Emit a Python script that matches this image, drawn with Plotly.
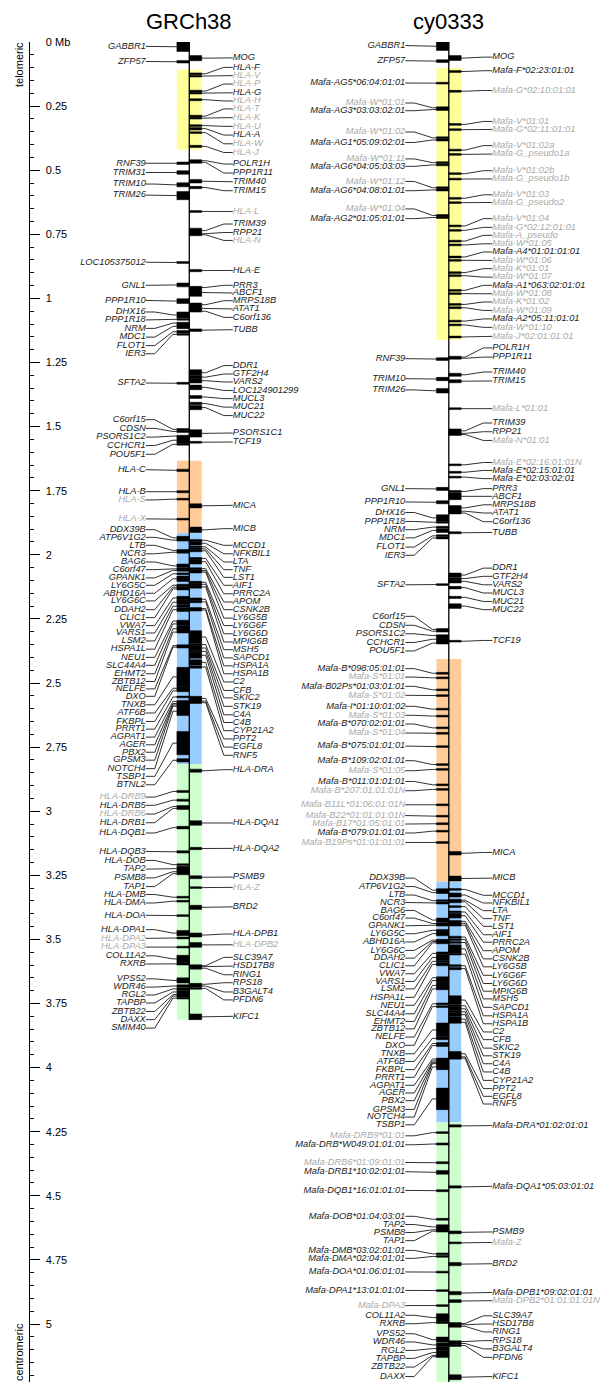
import plotly.graph_objects as go

# ---------------------------------------------------------------- data
ASSEMBLIES = ["GRCh38", "cy0333"]

TICK_MB = [0, 0.25, 0.5, 0.75, 1, 1.25, 1.5, 1.75, 2, 2.25, 2.5, 2.75,
           3, 3.25, 3.5, 3.75, 4, 4.25, 4.5, 4.75, 5]
TICK_TEXT = ["0 Mb", "0.25", "0.5", "0.75", "1", "1.25", "1.5", "1.75", "2",
             "2.25", "2.5", "2.75", "3", "3.25", "3.5", "3.75", "4", "4.25",
             "4.5", "4.75", "5"]

REGION_NAMES = ["class I (A region)", "class I (B/C region)", "class III", "class II"]
GRCH38_REGION_START = [0.108, 1.633, 1.915, 2.816]
GRCH38_REGION_END = [0.419, 1.915, 2.816, 3.813]
CY0333_REGION_START = [0.101, 2.406, 3.275, 4.214]
CY0333_REGION_END = [1.161, 3.275, 4.214, 5.300]

GRCH38_LENGTH = 3.813
CY0333_LENGTH = 5.300

# (gene, start Mb, end Mb, label position Mb, pseudogene)
GRCH38_LEFT = [
    ("GABBR1", 0.000, 0.037, 0.017, False),
    ("ZFP57", 0.072, 0.082, 0.076, False),
    ("RNF39", 0.468, 0.478, 0.473, False),
    ("TRIM31", 0.502, 0.516, 0.509, False),
    ("TRIM10", 0.549, 0.565, 0.554, False),
    ("TRIM26", 0.583, 0.615, 0.597, False),
    ("LOC105375012", 0.858, 0.862, 0.859, False),
    ("GNL1", 0.940, 0.955, 0.949, False),
    ("PPP1R10", 1.001, 1.020, 1.008, False),
    ("DHX16", 1.053, 1.076, 1.053, False),
    ("PPP1R18", 1.078, 1.085, 1.084, False),
    ("NRM", 1.094, 1.099, 1.117, False),
    ("MDC1", 1.100, 1.118, 1.151, False),
    ("FLOT1", 1.125, 1.135, 1.184, False),
    ("IER3", 1.138, 1.142, 1.216, False),
    ("SFTA2", 1.329, 1.333, 1.330, False),
    ("C6orf15", 1.509, 1.513, 1.473, False),
    ("CDSN", 1.515, 1.523, 1.507, False),
    ("PSORS1C2", 1.535, 1.539, 1.541, False),
    ("CCHCR1", 1.541, 1.565, 1.574, False),
    ("POU5F1", 1.566, 1.572, 1.608, False),
    ("HLA-C", 1.666, 1.675, 1.668, False),
    ("HLA-B", 1.750, 1.758, 1.754, False),
    ("HLA-S", 1.780, 1.786, 1.786, True),
    ("HLA-X", 1.858, 1.864, 1.860, True),
    ("DDX39B", 1.928, 1.940, 1.902, False),
    ("ATP6V1G2", 1.941, 1.945, 1.932, False),
    ("LTB", 1.980, 1.986, 1.963, False),
    ("NCR3", 1.987, 1.993, 1.996, False),
    ("BAG6", 2.036, 2.050, 2.028, False),
    ("C6orf47", 2.053, 2.057, 2.058, False),
    ("GPANK1", 2.058, 2.063, 2.090, False),
    ("LY6G5C", 2.071, 2.077, 2.119, False),
    ("ABHD16A", 2.083, 2.104, 2.150, False),
    ("LY6G6C", 2.116, 2.121, 2.180, False),
    ("DDAH2", 2.124, 2.128, 2.214, False),
    ("CLIC1", 2.129, 2.137, 2.245, False),
    ("VWA7", 2.162, 2.175, 2.276, False),
    ("VARS1", 2.176, 2.194, 2.305, False),
    ("LSM2", 2.196, 2.205, 2.336, False),
    ("HSPA1L", 2.207, 2.221, 2.368, False),
    ("NEU1", 2.256, 2.261, 2.400, False),
    ("SLC44A4", 2.262, 2.277, 2.431, False),
    ("EHMT2", 2.278, 2.299, 2.464, False),
    ("ZBTB12", 2.300, 2.303, 2.494, False),
    ("NELFE", 2.352, 2.357, 2.523, False),
    ("DXO", 2.358, 2.362, 2.552, False),
    ("TNXB", 2.439, 2.513, 2.585, False),
    ("ATF6B", 2.514, 2.527, 2.617, False),
    ("FKBPL", 2.528, 2.533, 2.650, False),
    ("PRRT1", 2.552, 2.557, 2.680, False),
    ("AGPAT1", 2.568, 2.576, 2.711, False),
    ("AGER", 2.578, 2.582, 2.741, False),
    ("PBX2", 2.583, 2.588, 2.770, False),
    ("GPSM3", 2.589, 2.592, 2.801, False),
    ("NOTCH4", 2.593, 2.627, 2.834, False),
    ("TSBP1", 2.689, 2.780, 2.864, False),
    ("BTNL2", 2.795, 2.808, 2.897, False),
    ("HLA-DRB9", 2.919, 2.927, 2.945, True),
    ("HLA-DRB5", 2.953, 2.961, 2.977, False),
    ("HLA-DRB6", 2.979, 2.984, 3.011, True),
    ("HLA-DRB1", 2.985, 2.993, 3.045, False),
    ("HLA-DQB1", 3.059, 3.069, 3.085, False),
    ("HLA-DQB3", 3.154, 3.163, 3.157, False),
    ("HLA-DOB", 3.206, 3.211, 3.192, False),
    ("TAP2", 3.215, 3.233, 3.226, False),
    ("PSMB8", 3.234, 3.238, 3.260, False),
    ("TAP1", 3.239, 3.248, 3.294, False),
    ("HLA-DMB", 3.332, 3.339, 3.325, False),
    ("HLA-DMA", 3.348, 3.354, 3.358, False),
    ("HLA-DOA", 3.404, 3.410, 3.406, False),
    ("HLA-DPA1", 3.465, 3.486, 3.462, False),
    ("HLA-DPA2", 3.492, 3.497, 3.496, True),
    ("HLA-DPA3", 3.528, 3.532, 3.530, True),
    ("COL11A2", 3.562, 3.590, 3.564, False),
    ("RXRB", 3.591, 3.600, 3.596, False),
    ("VPS52", 3.650, 3.670, 3.654, False),
    ("WDR46", 3.677, 3.687, 3.686, False),
    ("RGL2", 3.689, 3.697, 3.717, False),
    ("TAPBP", 3.698, 3.712, 3.748, False),
    ("ZBTB22", 3.714, 3.717, 3.781, False),
    ("DAXX", 3.718, 3.724, 3.813, False),
    ("SMIM40", 3.726, 3.732, 3.846, False),
]

GRCH38_RIGHT = [
    ("MOG", 0.053, 0.073, 0.062, False),
    ("HLA-F", 0.121, 0.127, 0.099, False),
    ("HLA-V", 0.130, 0.136, 0.131, True),
    ("HLA-P", 0.189, 0.194, 0.164, True),
    ("HLA-G", 0.196, 0.203, 0.198, False),
    ("HLA-H", 0.221, 0.229, 0.230, True),
    ("HLA-T", 0.286, 0.292, 0.261, True),
    ("HLA-K", 0.294, 0.300, 0.295, True),
    ("HLA-U", 0.324, 0.328, 0.329, True),
    ("HLA-A", 0.333, 0.343, 0.363, False),
    ("HLA-W", 0.350, 0.357, 0.397, True),
    ("HLA-J", 0.403, 0.411, 0.431, True),
    ("POLR1H", 0.459, 0.467, 0.476, False),
    ("PPP1R11", 0.468, 0.471, 0.511, False),
    ("TRIM40", 0.536, 0.550, 0.545, False),
    ("TRIM15", 0.563, 0.572, 0.580, False),
    ("HLA-L", 0.658, 0.664, 0.661, True),
    ("TRIM39", 0.726, 0.745, 0.710, False),
    ("RPP21", 0.745, 0.750, 0.743, False),
    ("HLA-N", 0.750, 0.754, 0.774, True),
    ("HLA-E", 0.887, 0.896, 0.891, False),
    ("PRR3", 0.953, 0.962, 0.949, False),
    ("ABCF1", 0.962, 0.992, 0.979, False),
    ("MRPS18B", 1.018, 1.031, 1.009, False),
    ("ATAT1", 1.031, 1.047, 1.041, False),
    ("C6orf136", 1.047, 1.053, 1.074, False),
    ("TUBB", 1.119, 1.129, 1.122, False),
    ("DDR1", 1.278, 1.302, 1.262, False),
    ("GTF2H4", 1.303, 1.311, 1.295, False),
    ("VARS2", 1.312, 1.330, 1.326, False),
    ("LOC124901299", 1.338, 1.356, 1.359, False),
    ("MUCL3", 1.379, 1.390, 1.391, False),
    ("MUC21", 1.405, 1.415, 1.424, False),
    ("MUC22", 1.418, 1.434, 1.457, False),
    ("PSORS1C1", 1.512, 1.541, 1.525, False),
    ("TCF19", 1.558, 1.564, 1.560, False),
    ("MICA", 1.801, 1.817, 1.807, False),
    ("MICB", 1.892, 1.913, 1.898, False),
    ("MCCD1", 1.941, 1.946, 1.963, False),
    ("NFKBIL1", 1.948, 1.962, 1.996, False),
    ("LTA", 1.966, 1.972, 2.028, False),
    ("TNF", 1.974, 1.980, 2.058, False),
    ("LST1", 1.982, 1.987, 2.088, False),
    ("AIF1", 2.012, 2.016, 2.119, False),
    ("PRRC2A", 2.018, 2.036, 2.152, False),
    ("APOM", 2.052, 2.056, 2.184, False),
    ("CSNK2B", 2.058, 2.065, 2.214, False),
    ("LY6G5B", 2.066, 2.069, 2.247, False),
    ("LY6G6F", 2.104, 2.110, 2.276, False),
    ("LY6G6D", 2.112, 2.118, 2.308, False),
    ("MPIG6B", 2.120, 2.130, 2.340, False),
    ("MSH5", 2.168, 2.179, 2.370, False),
    ("SAPCD1", 2.182, 2.185, 2.402, False),
    ("HSPA1A", 2.207, 2.212, 2.433, False),
    ("HSPA1B", 2.213, 2.218, 2.464, False),
    ("C2", 2.296, 2.345, 2.496, False),
    ("CFB", 2.347, 2.353, 2.529, False),
    ("SKIC2", 2.355, 2.372, 2.558, False),
    ("STK19", 2.373, 2.380, 2.591, False),
    ("C4A", 2.381, 2.403, 2.624, False),
    ("C4B", 2.409, 2.430, 2.654, False),
    ("CYP21A2", 2.433, 2.442, 2.686, False),
    ("PPT2", 2.552, 2.568, 2.718, False),
    ("EGFL8", 2.569, 2.572, 2.750, False),
    ("RNF5", 2.575, 2.578, 2.782, False),
    ("HLA-DRA", 2.836, 2.848, 2.838, False),
    ("HLA-DQA1", 3.037, 3.055, 3.046, False),
    ("HLA-DQA2", 3.141, 3.150, 3.145, False),
    ("PSMB9", 3.252, 3.263, 3.257, False),
    ("HLA-Z", 3.295, 3.301, 3.297, True),
    ("BRD2", 3.367, 3.383, 3.373, False),
    ("HLA-DPB1", 3.475, 3.491, 3.479, False),
    ("HLA-DPB2", 3.512, 3.531, 3.521, True),
    ("SLC39A7", 3.601, 3.604, 3.570, False),
    ("HSD17B8", 3.605, 3.608, 3.604, False),
    ("RING1", 3.609, 3.616, 3.638, False),
    ("RPS18", 3.673, 3.677, 3.669, False),
    ("B3GALT4", 3.680, 3.684, 3.705, False),
    ("PFDN6", 3.689, 3.693, 3.736, False),
    ("KIFC1", 3.791, 3.813, 3.800, False),
]

CY0333_LEFT = [
    ("GABBR1", 0.000, 0.033, 0.014, False),
    ("ZFP57", 0.069, 0.080, 0.073, False),
    ("Mafa-AG5*06:04:01:01", 0.158, 0.163, 0.160, False),
    ("Mafa-W*01:01", 0.254, 0.259, 0.238, True),
    ("Mafa-AG3*03:03:02:01", 0.260, 0.267, 0.268, False),
    ("Mafa-W*01:02", 0.371, 0.376, 0.351, True),
    ("Mafa-AG1*05:09:02:01", 0.378, 0.386, 0.392, False),
    ("Mafa-W*01:11", 0.468, 0.473, 0.456, True),
    ("Mafa-AG6*04:05:03:03", 0.477, 0.482, 0.485, False),
    ("Mafa-W*01:12", 0.566, 0.571, 0.544, True),
    ("Mafa-AG6*04:08:01:01", 0.573, 0.581, 0.580, False),
    ("Mafa-W*01:04", 0.674, 0.679, 0.651, True),
    ("Mafa-AG2*01:05:01:01", 0.681, 0.688, 0.689, False),
    ("RNF39", 1.231, 1.242, 1.235, False),
    ("TRIM10", 1.308, 1.321, 1.313, False),
    ("TRIM26", 1.351, 1.369, 1.357, False),
    ("GNL1", 1.737, 1.749, 1.742, False),
    ("PPP1R10", 1.789, 1.801, 1.794, False),
    ("DHX16", 1.844, 1.868, 1.835, False),
    ("PPP1R18", 1.870, 1.876, 1.870, False),
    ("NRM", 1.889, 1.895, 1.902, False),
    ("MDC1", 1.897, 1.913, 1.934, False),
    ("FLOT1", 1.922, 1.930, 1.970, False),
    ("IER3", 1.932, 1.937, 2.002, False),
    ("SFTA2", 2.113, 2.119, 2.117, False),
    ("C6orf15", 2.288, 2.294, 2.240, False),
    ("CDSN", 2.295, 2.301, 2.275, False),
    ("PSORS1C2", 2.313, 2.317, 2.308, False),
    ("CCHCR1", 2.318, 2.341, 2.342, False),
    ("POU5F1", 2.342, 2.347, 2.375, False),
    ("Mafa-B*098:05:01:01", 2.459, 2.465, 2.444, False),
    ("Mafa-S*01:01", 2.477, 2.483, 2.477, True),
    ("Mafa-B02Ps*01:03:01:01", 2.523, 2.530, 2.513, False),
    ("Mafa-S*01:02", 2.546, 2.552, 2.548, True),
    ("Mafa-I*01:10:01:02", 2.599, 2.605, 2.591, False),
    ("Mafa-S*01:03", 2.626, 2.632, 2.626, True),
    ("Mafa-B*070:02:01:01", 2.672, 2.678, 2.660, False),
    ("Mafa-S*01:04", 2.693, 2.699, 2.695, True),
    ("Mafa-B*075:01:01:01", 2.745, 2.751, 2.746, False),
    ("Mafa-B*109:02:01:01", 2.815, 2.821, 2.803, False),
    ("Mafa-S*01:05", 2.834, 2.840, 2.842, True),
    ("Mafa-B*011:01:01:01", 2.894, 2.900, 2.884, False),
    ("Mafa-B*207:01:01:01N", 2.912, 2.918, 2.920, True),
    ("Mafa-B11L*01:06:01:01N", 2.972, 2.978, 2.975, True),
    ("Mafa-B22*01:01:01:01N", 3.016, 3.023, 3.017, True),
    ("Mafa-B17*01:05:01:01", 3.046, 3.052, 3.050, True),
    ("Mafa-B*079:01:01:01", 3.075, 3.081, 3.085, False),
    ("Mafa-B19Ps*01:01:01:01", 3.119, 3.125, 3.122, True),
    ("DDX39B", 3.302, 3.314, 3.261, False),
    ("ATP6V1G2", 3.315, 3.320, 3.294, False),
    ("LTB", 3.346, 3.352, 3.327, False),
    ("NCR3", 3.354, 3.362, 3.356, False),
    ("BAG6", 3.417, 3.432, 3.387, False),
    ("C6orf47", 3.436, 3.440, 3.417, False),
    ("GPANK1", 3.442, 3.447, 3.447, False),
    ("LY6G5C", 3.462, 3.467, 3.478, False),
    ("ABHD16A", 3.469, 3.486, 3.510, False),
    ("LY6G6C", 3.501, 3.505, 3.543, False),
    ("DDAH2", 3.506, 3.510, 3.573, False),
    ("CLIC1", 3.510, 3.517, 3.603, False),
    ("VWA7", 3.549, 3.560, 3.634, False),
    ("VARS1", 3.561, 3.580, 3.664, False),
    ("LSM2", 3.581, 3.590, 3.693, False),
    ("HSPA1L", 3.592, 3.603, 3.726, False),
    ("NEU1", 3.647, 3.652, 3.757, False),
    ("SLC44A4", 3.653, 3.668, 3.790, False),
    ("EHMT2", 3.669, 3.690, 3.820, False),
    ("ZBTB12", 3.691, 3.695, 3.849, False),
    ("NELFE", 3.748, 3.755, 3.881, False),
    ("DXO", 3.759, 3.765, 3.913, False),
    ("TNXB", 3.826, 3.880, 3.946, False),
    ("ATF6B", 3.881, 3.891, 3.976, False),
    ("FKBPL", 3.904, 3.908, 4.008, False),
    ("PRRT1", 3.911, 3.917, 4.038, False),
    ("AGPAT1", 3.963, 3.970, 4.069, False),
    ("AGER", 3.972, 3.976, 4.099, False),
    ("PBX2", 3.977, 3.982, 4.129, False),
    ("GPSM3", 3.983, 3.986, 4.163, False),
    ("NOTCH4", 3.987, 4.008, 4.193, False),
    ("TSBP1", 4.080, 4.164, 4.223, False),
    ("Mafa-DRB9*01:01", 4.250, 4.257, 4.266, True),
    ("Mafa-DRB*W049:01:01:01", 4.294, 4.302, 4.301, False),
    ("Mafa-DRB6*01:09:01:01", 4.367, 4.375, 4.370, True),
    ("Mafa-DRB1*10:02:01:01", 4.401, 4.416, 4.406, False),
    ("Mafa-DQB1*16:01:01:01", 4.476, 4.484, 4.479, False),
    ("Mafa-DOB*01:04:03:01", 4.588, 4.595, 4.580, False),
    ("TAP2", 4.613, 4.630, 4.612, False),
    ("PSMB8", 4.631, 4.634, 4.643, False),
    ("TAP1", 4.635, 4.641, 4.675, False),
    ("Mafa-DMB*03:02:01:01", 4.723, 4.730, 4.713, False),
    ("Mafa-DMA*02:04:01:01", 4.733, 4.740, 4.744, False),
    ("Mafa-DOA*01:06:01:01", 4.795, 4.800, 4.797, False),
    ("Mafa-DPA1*13:01:01:01", 4.866, 4.873, 4.869, False),
    ("Mafa-DPA3", 4.925, 4.931, 4.928, True),
    ("COL11A2", 4.960, 4.990, 4.966, False),
    ("RXRB", 4.991, 4.998, 4.999, False),
    ("VPS52", 5.051, 5.071, 5.038, False),
    ("WDR46", 5.074, 5.089, 5.070, False),
    ("RGL2", 5.090, 5.102, 5.103, False),
    ("TAPBP", 5.103, 5.120, 5.134, False),
    ("ZBTB22", 5.121, 5.124, 5.168, False),
    ("DAXX", 5.125, 5.130, 5.205, False),
]

CY0333_RIGHT = [
    ("MOG", 0.053, 0.072, 0.059, False),
    ("Mafa-F*02:23:01:01", 0.112, 0.118, 0.112, False),
    ("Mafa-G*02:10:01:01", 0.189, 0.195, 0.189, True),
    ("Mafa-V*01:01", 0.319, 0.324, 0.310, True),
    ("Mafa-G*02:11:01:01", 0.339, 0.345, 0.341, True),
    ("Mafa-V*01:02a", 0.419, 0.424, 0.404, True),
    ("Mafa-G_pseudo1a", 0.436, 0.441, 0.437, True),
    ("Mafa-V*01:02b", 0.511, 0.516, 0.502, True),
    ("Mafa-G_pseudo1b", 0.532, 0.537, 0.534, True),
    ("Mafa-V*01:03", 0.607, 0.612, 0.596, True),
    ("Mafa-G_pseudo2", 0.624, 0.629, 0.626, True),
    ("Mafa-V*01:04", 0.715, 0.720, 0.689, True),
    ("Mafa-G*02:12:01:01", 0.732, 0.737, 0.723, True),
    ("Mafa-A_pseudo", 0.774, 0.779, 0.754, True),
    ("Mafa-W*01:05", 0.789, 0.794, 0.787, True),
    ("Mafa-A4*01:01:01:01", 0.836, 0.841, 0.819, False),
    ("Mafa-W*01:06", 0.849, 0.854, 0.852, True),
    ("Mafa-K*01:01", 0.897, 0.902, 0.884, True),
    ("Mafa-W*01:07", 0.909, 0.914, 0.917, True),
    ("Mafa-A1*063:02:01:01", 0.966, 0.971, 0.949, False),
    ("Mafa-W*01:08", 0.979, 0.984, 0.982, True),
    ("Mafa-K*01:02", 1.021, 1.026, 1.014, True),
    ("Mafa-W*01:09", 1.034, 1.039, 1.047, True),
    ("Mafa-A2*05:11:01:01", 1.086, 1.091, 1.080, False),
    ("Mafa-W*01:10", 1.101, 1.106, 1.113, True),
    ("Mafa-J*02:01:01:01", 1.148, 1.153, 1.148, True),
    ("POLR1H", 1.226, 1.232, 1.193, False),
    ("PPP1R11", 1.232, 1.235, 1.229, False),
    ("TRIM40", 1.292, 1.304, 1.287, False),
    ("TRIM15", 1.317, 1.329, 1.322, False),
    ("Mafa-L*01:01", 1.427, 1.433, 1.430, True),
    ("TRIM39", 1.509, 1.524, 1.486, False),
    ("RPP21", 1.524, 1.529, 1.520, False),
    ("Mafa-N*01:01", 1.529, 1.533, 1.554, True),
    ("Mafa-E*02:16:01:01N", 1.646, 1.652, 1.640, True),
    ("Mafa-E*02:15:01:01", 1.675, 1.681, 1.671, False),
    ("Mafa-E*02:03:02:01", 1.694, 1.700, 1.703, False),
    ("PRR3", 1.749, 1.757, 1.742, False),
    ("ABCF1", 1.759, 1.785, 1.772, False),
    ("MRPS18B", 1.808, 1.826, 1.805, False),
    ("ATAT1", 1.827, 1.833, 1.837, False),
    ("C6orf136", 1.834, 1.840, 1.871, False),
    ("TUBB", 1.910, 1.918, 1.913, False),
    ("DDR1", 2.071, 2.087, 2.052, False),
    ("GTF2H4", 2.089, 2.096, 2.084, False),
    ("VARS2", 2.097, 2.110, 2.117, False),
    ("MUCL3", 2.123, 2.133, 2.149, False),
    ("MUC21", 2.162, 2.170, 2.182, False),
    ("MUC22", 2.191, 2.209, 2.214, False),
    ("TCF19", 2.334, 2.340, 2.334, False),
    ("MICA", 3.157, 3.171, 3.161, False),
    ("MICB", 3.253, 3.272, 3.261, False),
    ("MCCD1", 3.302, 3.308, 3.328, False),
    ("NFKBIL1", 3.319, 3.335, 3.358, False),
    ("LTA", 3.345, 3.349, 3.388, False),
    ("TNF", 3.351, 3.356, 3.419, False),
    ("LST1", 3.370, 3.374, 3.449, False),
    ("AIF1", 3.391, 3.395, 3.482, False),
    ("PRRC2A", 3.398, 3.417, 3.511, False),
    ("APOM", 3.427, 3.432, 3.544, False),
    ("CSNK2B", 3.434, 3.440, 3.576, False),
    ("LY6G5B", 3.443, 3.446, 3.607, False),
    ("LY6G6F", 3.488, 3.494, 3.640, False),
    ("LY6G6D", 3.497, 3.504, 3.672, False),
    ("MPIG6B", 3.509, 3.515, 3.702, False),
    ("MSH5", 3.521, 3.553, 3.732, False),
    ("SAPCD1", 3.556, 3.559, 3.765, False),
    ("HSPA1A", 3.599, 3.606, 3.798, False),
    ("HSPA1B", 3.610, 3.618, 3.829, False),
    ("C2", 3.720, 3.753, 3.861, False),
    ("CFB", 3.755, 3.762, 3.891, False),
    ("SKIC2", 3.763, 3.778, 3.924, False),
    ("STK19", 3.779, 3.786, 3.954, False),
    ("C4A", 3.787, 3.800, 3.985, False),
    ("C4B", 3.802, 3.820, 4.017, False),
    ("CYP21A2", 3.821, 3.826, 4.050, False),
    ("PPT2", 3.937, 3.955, 4.082, False),
    ("EGFL8", 3.956, 3.960, 4.112, False),
    ("RNF5", 3.962, 3.965, 4.142, False),
    ("Mafa-DRA*01:02:01:01", 4.223, 4.232, 4.226, False),
    ("Mafa-DQA1*05:03:01:01", 4.461, 4.470, 4.463, False),
    ("PSMB9", 4.637, 4.648, 4.641, False),
    ("Mafa-Z", 4.680, 4.687, 4.682, True),
    ("BRD2", 4.760, 4.773, 4.765, False),
    ("Mafa-DPB1*09:02:01:01", 4.873, 4.886, 4.877, False),
    ("Mafa-DPB2*01:01:01:01N", 4.905, 4.916, 4.909, True),
    ("SLC39A7", 4.996, 5.000, 4.968, False),
    ("HSD17B8", 5.001, 5.005, 5.000, False),
    ("RING1", 5.006, 5.012, 5.031, False),
    ("RPS18", 5.066, 5.071, 5.065, False),
    ("B3GALT4", 5.074, 5.078, 5.097, False),
    ("PFDN6", 5.082, 5.086, 5.130, False),
    ("KIFC1", 5.198, 5.217, 5.205, False),
]

# ---------------------------------------------------------------- style
W, H = 602, 1382
TOP, LEFT = 42, 30
PX_PER_MB = 256.4
MB_BOTTOM = (H - TOP) / PX_PER_MB
FONT = "Liberation Sans, Arial, Helvetica, sans-serif"
REGION_COLORS = ["#FFFF99", "#FFCC99", "#99CCFF", "#CCFFCC"]
COL_X = {"GRCh38": 189.3, "cy0333": 448.8}
BOX_W = 12.4
LABEL_GAP = 43.5
STUB_LABEL = 9
STUB_GENE = 4
MIN_LEN = 0.007
TXT_BLACK = "#222222"
TXT_GRAY = "#aaaaaa"
LABEL_SIZE = 9.3

fig = go.Figure()

columns = [
    ("GRCh38", GRCH38_LEFT, GRCH38_RIGHT, GRCH38_REGION_START, GRCH38_REGION_END, GRCH38_LENGTH),
    ("cy0333", CY0333_LEFT, CY0333_RIGHT, CY0333_REGION_START, CY0333_REGION_END, CY0333_LENGTH),
]

annotations = []
for asm, left, right, rstart, rend, length in columns:
    cx = COL_X[asm]
    for s, e, col in zip(rstart, rend, REGION_COLORS):
        fig.add_shape(type="rect", xref="x", yref="y", x0=cx - BOX_W, x1=cx + BOX_W,
                      y0=s, y1=e, fillcolor=col, line_width=0, layer="below")
    for side, rows in (("L", left), ("R", right)):
        sign = -1 if side == "L" else 1
        x_out = cx + sign * BOX_W
        x_lab = cx + sign * LABEL_GAP
        bx, by, lx, ly = [], [], [], []
        for name, s, e, lab, pseudo in rows:
            mid = (s + e) / 2
            if e - s < MIN_LEN:
                s, e = mid - MIN_LEN / 2, mid + MIN_LEN / 2
            bx += [cx, x_out, x_out, cx, cx, None]
            by += [s, s, e, e, s, None]
            lx += [x_lab, x_lab - sign * STUB_LABEL, x_out + sign * STUB_GENE, x_out, None]
            ly += [lab, lab, mid, mid, None]
        fig.add_trace(go.Scatter(x=lx, y=ly, mode="lines", line=dict(color="#1a1a1a", width=0.9),
                                 hoverinfo="skip", showlegend=False))
        fig.add_trace(go.Scatter(x=bx, y=by, mode="lines", fill="toself", fillcolor="black",
                                 line=dict(color="black", width=0.5), hoverinfo="skip",
                                 showlegend=False))
        for flag, color in ((False, TXT_BLACK), (True, TXT_GRAY)):
            sel = [r for r in rows if r[4] == flag]
            fig.add_trace(go.Scatter(
                x=[x_lab] * len(sel), y=[r[3] for r in sel], text=[r[0] for r in sel],
                mode="text", textposition="middle left" if side == "L" else "middle right",
                textfont=dict(family=FONT, size=LABEL_SIZE, color=color, style="italic"),
                hoverinfo="text", showlegend=False, cliponaxis=False))
    fig.add_trace(go.Scatter(x=[cx, cx], y=[0, length], mode="lines",
                             line=dict(color="black", width=1.3), hoverinfo="skip",
                             showlegend=False))
    annotations.append(dict(text=asm, x=cx, xref="x", y=(H - 22) / (H - TOP), yref="paper",
                            showarrow=False, xanchor="center", yanchor="middle",
                            font=dict(family=FONT, size=22, color="black")))

plot_w = W - LEFT
annotations.append(dict(text="telomeric", textangle=-90, x=(19 - LEFT) / plot_w, xref="paper",
                        y=(H - 65) / (H - TOP), yref="paper", showarrow=False,
                        xanchor="center", yanchor="middle",
                        font=dict(family=FONT, size=11, color="black")))
annotations.append(dict(text="centromeric", textangle=-90, x=(19 - LEFT) / plot_w, xref="paper",
                        y=(H - 1352) / (H - TOP), yref="paper", showarrow=False,
                        xanchor="center", yanchor="middle",
                        font=dict(family=FONT, size=11, color="black")))

fig.update_layout(
    width=W, height=H, autosize=False,
    margin=dict(l=LEFT, r=0, t=TOP, b=0, pad=0, autoexpand=False),
    paper_bgcolor="white", plot_bgcolor="white",
    showlegend=False, annotations=annotations,
    xaxis=dict(range=[LEFT, W], visible=False, fixedrange=True, automargin=False),
    yaxis=dict(range=[MB_BOTTOM, 0], showgrid=False, zeroline=False, automargin=False,
               showline=True, linecolor="black", linewidth=1,
               ticks="inside", ticklen=10, tickwidth=1, tickcolor="black",
               tickmode="array", tickvals=TICK_MB, ticktext=TICK_TEXT,
               ticklabelposition="inside", ticklabeloverflow="allow",
               ticklabelstandoff=5,
               tickfont=dict(family=FONT, size=11, color="black"),
               minor=dict(ticks="inside", ticklen=4, tickwidth=1, tickcolor="black",
                          tickmode="linear", tick0=0, dtick=0.05, showgrid=False),
               fixedrange=True),
)

fig.write_html(
    "out.html",
    config={"displayModeBar": False, "staticPlot": False},
    post_script="document.body.style.margin='0';document.body.style.padding='0';"
                "document.body.style.overflow='hidden';",
)
